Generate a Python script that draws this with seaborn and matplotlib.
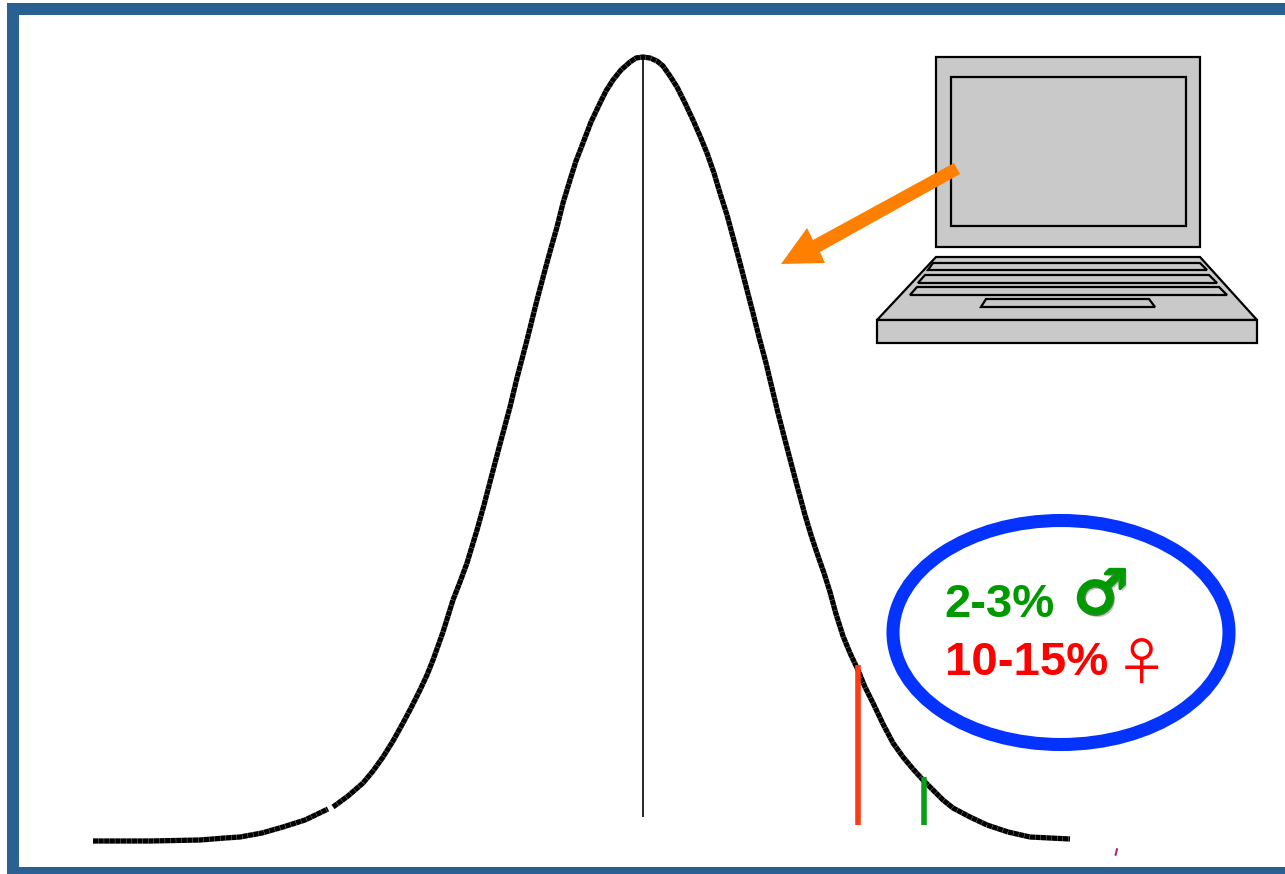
import matplotlib
matplotlib.use("Agg")
import matplotlib.pyplot as plt
import matplotlib.patheffects as pe
from matplotlib.patches import Ellipse, Polygon, Rectangle
import pandas as pd
import seaborn as sns

# Bell curve (pixel coordinates of the slide)
curve_left_x = [93, 150, 200, 225, 240, 262, 283, 305, 328]
curve_left_y = [841, 841, 840, 838, 837, 833, 827, 820, 809]
curve_right_x = [333, 348, 363, 373, 383, 393, 403, 412, 420, 427, 433, 443, 453, 460, 467, 477, 484,
                 490, 500, 510, 517, 527, 537, 545, 551, 557, 563, 570, 576, 583, 591, 600, 606, 613,
                 621, 630, 636, 643, 650, 657, 663, 670, 677, 685, 693, 700, 707, 714, 720, 727, 733,
                 740, 747, 753, 759, 766, 772, 778, 785, 795, 805, 811, 818, 824, 830, 836, 843, 850,
                 858, 865, 873, 883, 893, 903, 913, 923, 933, 943, 953, 970, 987, 1008, 1030, 1050, 1070]
curve_right_y = [807, 796, 783, 771, 757, 741, 723, 706, 690, 675, 660, 632, 600, 582, 563, 530, 505,
                 482, 444, 407, 378, 340, 300, 270, 248, 227, 203, 180, 161, 143, 122, 103, 91, 80,
                 70, 62, 58, 57, 58, 61, 66, 76, 87, 103, 120, 136, 153, 173, 193, 215, 237,
                 263, 290, 313, 337, 363, 388, 413, 440, 478, 515, 535, 556, 573, 592, 614, 636, 653,
                 670, 687, 703, 724, 743, 757, 769, 780, 790, 800, 808, 817, 825, 832, 837, 838, 839]

# Vertical markers
mean_x, mean_top, mean_bottom = 643, 57, 817
red_x, red_top, red_bottom = 858, 665, 825
green_x, green_top, green_bottom = 924, 777, 825

# Annotation text
male_label = "2-3%"
female_label = "10-15%"
male_sign = "\u2642"
female_sign = "\u2640"

FRAME = "#2a6092"
GREEN = "#009a00"
RED = "#ff0000"
BLUE = "#0433ff"
ORANGE = "#ff8000"
GREY = "#c9c9c9"

sns.set_theme(style="white")
fig = plt.figure(figsize=(12.85, 8.74), dpi=100, facecolor="white")
ax = fig.add_axes([0, 0, 1, 1])
ax.set_xlim(0, 1285)
ax.set_ylim(874, 0)
ax.axis("off")

# Frame
for x, y, w, h in [(7, 3, 1278, 12), (7, 3, 12, 871), (7, 867, 1278, 7)]:
    ax.add_patch(Rectangle((x, y), w, h, facecolor=FRAME, edgecolor="none", zorder=1))

# Curve: thick line with fine slits, as in the scanned original
for xs, ys in [(curve_left_x, curve_left_y), (curve_right_x, curve_right_y)]:
    line_df = pd.DataFrame({"x": xs, "y": ys})
    sns.lineplot(data=line_df, x="x", y="y", ax=ax, color="black", lw=3.8, sort=False,
                 estimator=None, legend=False, zorder=3, linestyle=(0, (1.0, 0.05)),
                 dash_capstyle="butt")

# Vertical markers
for vx, top, bottom, colour, width in [(mean_x, mean_top, mean_bottom, "black", 1.2),
                                       (red_x, red_top, red_bottom, "#ff3b14", 4.0),
                                       (green_x, green_top, green_bottom, "#0a9e14", 4.0)]:
    marker_df = pd.DataFrame({"x": [vx, vx], "y": [top, bottom]})
    sns.lineplot(data=marker_df, x="x", y="y", ax=ax, color=colour, lw=width, sort=False,
                 estimator=None, legend=False, zorder=4, solid_capstyle="butt")

# Stray mark near the bottom
ax.plot([1115.6, 1117], [855, 849], color="#a0306a", lw=1.5, zorder=3)

# Laptop
LAPTOP = dict(facecolor=GREY, edgecolor="black", linewidth=1.6, joinstyle="miter", zorder=5)
ax.add_patch(Rectangle((936, 57), 264, 190, **LAPTOP))
ax.add_patch(Rectangle((951, 77), 235, 149, **LAPTOP))
ax.add_patch(Polygon([(936, 257), (1200, 257), (1257, 320), (877, 320)], **LAPTOP))
ax.add_patch(Rectangle((877, 320), 380, 23, **LAPTOP))
for pts in [[(933, 263), (1200, 263), (1207, 270), (928, 270)],
            [(925, 275), (1209, 275), (1217, 283), (918, 283)],
            [(917, 287), (1219, 287), (1227, 295), (910, 295)],
            [(986, 299), (1149, 299), (1155, 307), (981, 307)]]:
    ax.add_patch(Polygon(pts, **LAPTOP))

# Orange arrow
ax.add_patch(Polygon([(781, 264), (825, 263), (820, 252), (960, 174), (954, 163), (813, 240), (807, 228)],
                     facecolor=ORANGE, edgecolor="none", zorder=6))

# Ellipse and labels
ax.add_patch(Ellipse((1061, 632.5), 336, 224, facecolor="none", edgecolor=BLUE, linewidth=9.4, zorder=5))
ax.text(944, 617, male_label, color=GREEN, fontsize=34, fontweight="bold", family="Liberation Sans",
        va="baseline", ha="left", zorder=7)
ax.text(945, 675, female_label, color=RED, fontsize=34, fontweight="bold", family="Liberation Sans",
        va="baseline", ha="left", zorder=7)
ax.text(1101, 597, male_sign, color=GREEN, fontsize=44, fontweight="bold", family="DejaVu Sans",
        va="center", ha="center", zorder=7,
        path_effects=[pe.withStroke(linewidth=2.4, foreground=GREEN),
                      pe.withSimplePatchShadow(offset=(1.5, -2), shadow_rgbFace="#777777", alpha=0.4)])
ax.text(1141, 665, female_sign, color=RED, fontsize=37, family="Noto Sans CJK SC",
        va="center", ha="center", zorder=7)

fig.savefig("out.png", dpi=100, facecolor="white")
